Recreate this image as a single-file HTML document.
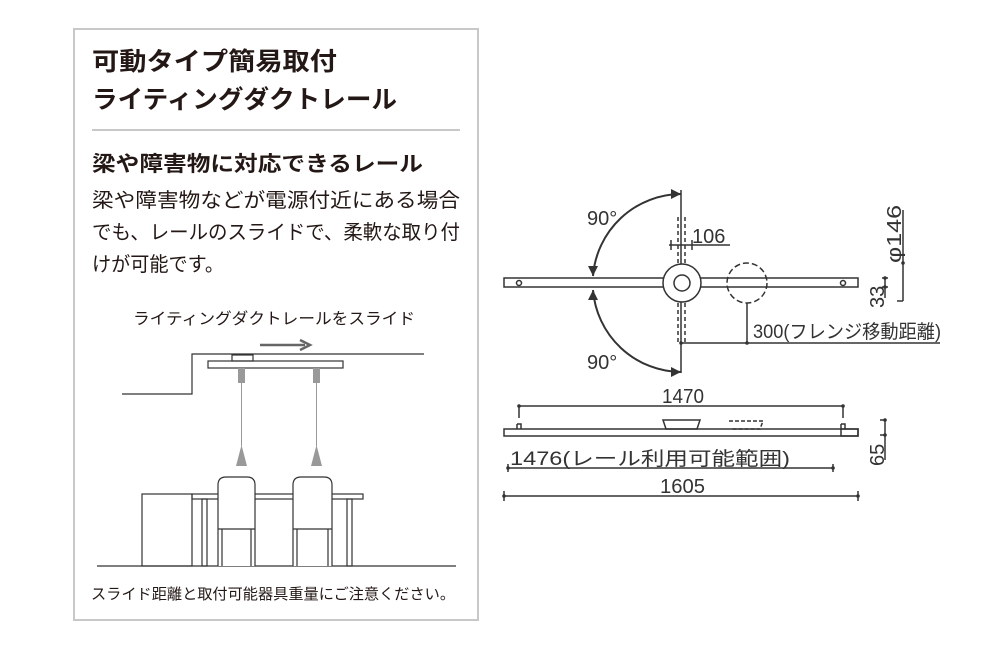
<!DOCTYPE html>
<html><head><meta charset="utf-8"><style>
html,body{margin:0;padding:0;background:#fff;}
svg{display:block;font-family:"Liberation Sans","Noto Sans CJK JP",sans-serif;}
</style></head><body>
<svg width="1000" height="667" viewBox="0 0 1000 667" xmlns="http://www.w3.org/2000/svg">
<rect x="0" y="0" width="1000" height="667" fill="#fff"/>
<rect x="74" y="29" width="404" height="591" fill="#fff" stroke="#c8c8c8" stroke-width="2"/>
<g fill="#231815" font-weight="bold">
<text x="92" y="70" font-size="25" textLength="245" lengthAdjust="spacingAndGlyphs">可動タイプ簡易取付</text>
<text x="92" y="108" font-size="25" textLength="305" lengthAdjust="spacingAndGlyphs">ライティングダクトレール</text>
<text x="92" y="171" font-size="21" textLength="331" lengthAdjust="spacingAndGlyphs">梁や障害物に対応できるレール</text>
</g>
<line x1="92" y1="130" x2="460" y2="130" stroke="#c8c8c8" stroke-width="2"/>
<g fill="#231815" font-size="20">
<text x="92" y="207" textLength="368" lengthAdjust="spacingAndGlyphs">梁や障害物などが電源付近にある場合</text>
<text x="92" y="239" textLength="368" lengthAdjust="spacingAndGlyphs">でも、レールのスライドで、柔軟な取り付</text>
<text x="92" y="271" textLength="132" lengthAdjust="spacingAndGlyphs">けが可能です。</text>
<text x="133" y="324" font-size="16" textLength="282" lengthAdjust="spacingAndGlyphs">ライティングダクトレールをスライド</text>
<text x="91" y="599" font-size="15" textLength="364" lengthAdjust="spacingAndGlyphs">スライド距離と取付可能器具重量にご注意ください。</text>
</g>
<line x1="260" y1="345" x2="305" y2="345" stroke="#666" stroke-width="2.5"/>
<polyline points="300,340 310,345 300,350" fill="none" stroke="#666" stroke-width="2.5"/>
<g fill="none" stroke="#333" stroke-width="1.2">
<polyline points="122,394 192,394 192,354 424,354"/>
<rect x="208" y="361" width="135" height="7" fill="#fff"/>
<rect x="232" y="355" width="21" height="6"/>
<line x1="97" y1="566" x2="456" y2="566"/>
<rect x="142" y="494" width="50" height="72"/>
<rect x="192" y="494" width="171" height="5"/>
<rect x="202" y="499" width="5" height="67"/>
<rect x="347" y="499" width="5" height="67"/>
<path d="M218,566 V485 Q218,477 226,477 H247 Q255,477 255,485 V566 M218,529 H255 M222,529 V566 M251,529 V566" fill="#fff"/>
<path d="M293,566 V485 Q293,477 301,477 H324 Q332,477 332,485 V566 M293,529 H332 M297,529 V566 M328,529 V566" fill="#fff"/>
</g>
<g fill="#999">
<rect x="238" y="368" width="7" height="15"/>
<rect x="313" y="368" width="7" height="15"/>
<polygon points="241.5,445 236,466 247,466"/>
<polygon points="316.5,445 311,466 322,466"/>
</g>
<line x1="241.5" y1="383" x2="241.5" y2="446" stroke="#999" stroke-width="1"/>
<line x1="316.5" y1="383" x2="316.5" y2="446" stroke="#999" stroke-width="1"/>
<g fill="none" stroke="#333" stroke-width="1.5">
<rect x="504" y="278" width="354" height="9" fill="#fff"/>
<circle cx="519" cy="283" r="2.5"/>
<circle cx="843" cy="283" r="2.5"/>
<line x1="681" y1="190" x2="681" y2="373"/>
<line x1="678" y1="217" x2="678" y2="263" stroke-dasharray="4,3"/>
<line x1="685" y1="217" x2="685" y2="263" stroke-dasharray="4,3"/>
<line x1="678" y1="303" x2="678" y2="345" stroke-dasharray="4,3"/>
<line x1="685" y1="303" x2="685" y2="345" stroke-dasharray="4,3"/>
<circle cx="682" cy="283" r="19" fill="#fff"/>
<circle cx="682" cy="283" r="8"/>
<circle cx="747" cy="283" r="20" stroke-dasharray="6,3"/>
<line x1="669" y1="245" x2="730" y2="245"/>
<line x1="671" y1="240" x2="671" y2="250"/>
<line x1="692" y1="240" x2="692" y2="250"/>
<path d="M681,194 A89,89 0 0 0 593,276" stroke-width="2"/>
<path d="M593,290 A89,89 0 0 0 681,372" stroke-width="2"/>
<line x1="681" y1="343" x2="940" y2="343"/>
<line x1="747" y1="303" x2="747" y2="343"/>
<line x1="903" y1="210" x2="903" y2="301"/>
<line x1="897" y1="301" x2="903" y2="301"/>
<line x1="885" y1="278" x2="885" y2="298"/>
<line x1="882" y1="278" x2="888" y2="278"/>
<line x1="882" y1="287" x2="888" y2="287"/>
</g>
<g fill="#333">
<polygon points="681,194 671,189 671,199"/>
<polygon points="593,276 588,266 598,266"/>
<polygon points="593,290 588,300 598,300"/>
<polygon points="681,372 671,367 671,377"/>
<circle cx="681" cy="343" r="1.8"/><circle cx="747" cy="343" r="1.8"/>
<circle cx="903" cy="263" r="1.8"/><circle cx="885" cy="278" r="1.8"/><circle cx="885" cy="287" r="1.8"/>
</g>
<g fill="#333" font-size="20">
<text x="587" y="225">90°</text>
<text x="587" y="369">90°</text>
<text x="692" y="243">106</text>
<text x="753" y="338" font-size="19" textLength="188" lengthAdjust="spacingAndGlyphs">300(フレンジ移動距離)</text>
<text transform="translate(901,263) rotate(-90)" textLength="58" lengthAdjust="spacingAndGlyphs">φ146</text>
<text transform="translate(884,308) rotate(-90)">33</text>
<text transform="translate(884,466) rotate(-90)">65</text>
<text x="662" y="403" textLength="42" lengthAdjust="spacingAndGlyphs">1470</text>
<text x="510" y="465" font-size="19" textLength="280" lengthAdjust="spacingAndGlyphs">1476(レール利用可能範囲)</text>
<text x="660" y="493" textLength="45" lengthAdjust="spacingAndGlyphs">1605</text>
</g>
<g fill="none" stroke="#333" stroke-width="1.5">
<rect x="504" y="429" width="354" height="7" fill="#fff"/>
<line x1="519" y1="406" x2="843" y2="406"/>
<line x1="519" y1="406" x2="519" y2="418"/>
<line x1="843" y1="406" x2="843" y2="418"/>
<path d="M517,424 H521 V429 M517,424 V429"/>
<path d="M841,424 H845 V429 M841,424 V429"/>
<path d="M663,420 H700 L697,429 H666 Z"/>
<path d="M729,421 H763 L760,429 H732" stroke-dasharray="4,2"/>
<rect x="841" y="429" width="17" height="7"/>
<line x1="508" y1="468" x2="833" y2="468"/>
<line x1="508" y1="464" x2="508" y2="472"/>
<line x1="833" y1="464" x2="833" y2="472"/>
<line x1="504" y1="496" x2="858" y2="496"/>
<line x1="504" y1="491" x2="504" y2="501"/>
<line x1="858" y1="491" x2="858" y2="501"/>
<line x1="885" y1="420" x2="885" y2="460"/>
<line x1="880" y1="420" x2="885" y2="420"/>
<line x1="880" y1="435" x2="885" y2="435"/>
</g>
<g fill="#333">
<circle cx="519" cy="406" r="1.8"/><circle cx="843" cy="406" r="1.8"/>
<circle cx="508" cy="468" r="1.8"/><circle cx="833" cy="468" r="1.8"/>
<circle cx="504" cy="496" r="1.8"/><circle cx="858" cy="496" r="1.8"/>
<circle cx="885" cy="420" r="1.8"/><circle cx="885" cy="435" r="1.8"/>
</g>
</svg>
</body></html>
